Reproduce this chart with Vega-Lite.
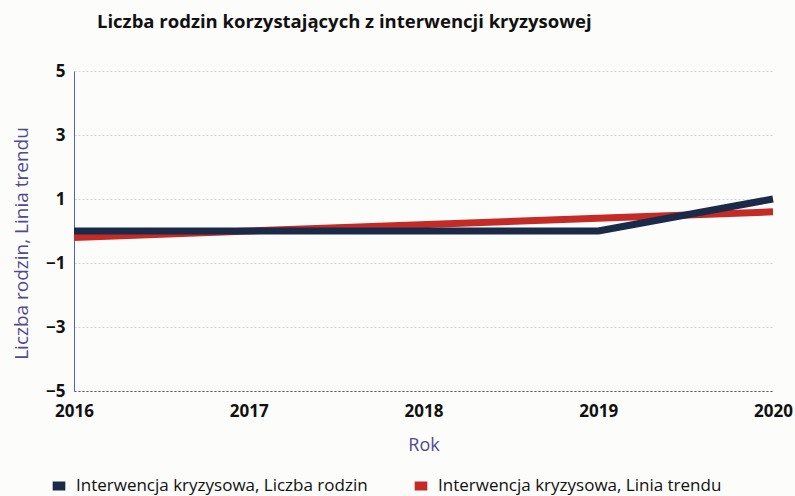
{
  "$schema": "https://vega.github.io/schema/vega-lite/v6.json",
  "width": 699,
  "height": 320,
  "autosize": {"type": "none"},
  "padding": {"left": 74, "top": 71, "right": 22, "bottom": 105},
  "background": "#fcfcfa",
  "title": {
    "text": "Liczba rodzin korzystających z interwencji kryzysowej",
    "anchor": "start",
    "frame": "group",
    "dx": 23,
    "offset": 31,
    "font": "Open Sans",
    "fontSize": 18.5,
    "fontWeight": "bold",
    "color": "#111111"
  },
  "datasets": {
    "main": [
      {"rok": 2016, "seria": "Interwencja kryzysowa, Liczba rodzin", "wartosc": 0},
      {"rok": 2017, "seria": "Interwencja kryzysowa, Liczba rodzin", "wartosc": 0},
      {"rok": 2018, "seria": "Interwencja kryzysowa, Liczba rodzin", "wartosc": 0},
      {"rok": 2019, "seria": "Interwencja kryzysowa, Liczba rodzin", "wartosc": 0},
      {"rok": 2020, "seria": "Interwencja kryzysowa, Liczba rodzin", "wartosc": 1}
    ],
    "trend": [
      {"rok": 2016, "seria": "Interwencja kryzysowa, Linia trendu", "wartosc": -0.2},
      {"rok": 2020, "seria": "Interwencja kryzysowa, Linia trendu", "wartosc": 0.6}
    ]
  },
  "encoding": {
    "x": {
      "field": "rok",
      "type": "quantitative",
      "title": "Rok",
      "scale": {"domain": [2016, 2020], "nice": false, "zero": false},
      "axis": {
        "values": [2016, 2017, 2018, 2019, 2020],
        "format": "d",
        "grid": false,
        "ticks": false,
        "labelFont": "Open Sans",
        "labelFontSize": 17,
        "labelFontWeight": "bold",
        "labelColor": "#111111",
        "labelPadding": 12,
        "labelFlush": false,
        "domainColor": "#555566",
        "domainDash": [2, 2],
        "domainWidth": 1,
        "titleFont": "Open Sans",
        "titleFontSize": 18,
        "titleFontWeight": "normal",
        "titleColor": "#4f4a92",
        "titlePadding": 17
      }
    },
    "y": {
      "field": "wartosc",
      "type": "quantitative",
      "title": "Liczba rodzin, Linia trendu",
      "scale": {"domain": [-5, 5], "nice": false},
      "axis": {
        "values": [-5, -3, -1, 1, 3, 5],
        "ticks": false,
        "grid": true,
        "gridColor": "#d8d0d8",
        "gridDash": [2, 2],
        "gridWidth": 1,
        "labelFont": "Open Sans",
        "labelFontSize": 17,
        "labelFontWeight": "bold",
        "labelColor": "#111111",
        "labelPadding": 9,
        "domainColor": "#4a6aa8",
        "domainWidth": 1,
        "titleFont": "Open Sans",
        "titleFontSize": 19,
        "titleFontWeight": "normal",
        "titleColor": "#4f4a92",
        "titlePadding": 14,
        "titleY": 172
      }
    },
    "color": {
      "field": "seria",
      "type": "nominal",
      "scale": {
        "domain": ["Interwencja kryzysowa, Liczba rodzin", "Interwencja kryzysowa, Linia trendu"],
        "range": ["#1b2a48", "#c42a26"]
      },
      "legend": {
        "title": null,
        "orient": "none",
        "legendX": -26,
        "legendY": 404,
        "direction": "horizontal",
        "symbolType": "stroke",
        "symbolSize": 160,
        "symbolStrokeWidth": 9,
        "labelFont": "Open Sans",
        "labelFontSize": 17,
        "labelColor": "#111111",
        "labelLimit": 0,
        "labelOffset": 6,
        "columnPadding": 28
      }
    }
  },
  "layer": [
    {
      "data": {"name": "trend"},
      "mark": {"type": "line", "strokeWidth": 7, "strokeCap": "butt"}
    },
    {
      "data": {"name": "main"},
      "mark": {"type": "line", "strokeWidth": 7, "strokeCap": "butt", "strokeJoin": "round"}
    }
  ],
  "config": {
    "view": {"stroke": null}
  }
}
